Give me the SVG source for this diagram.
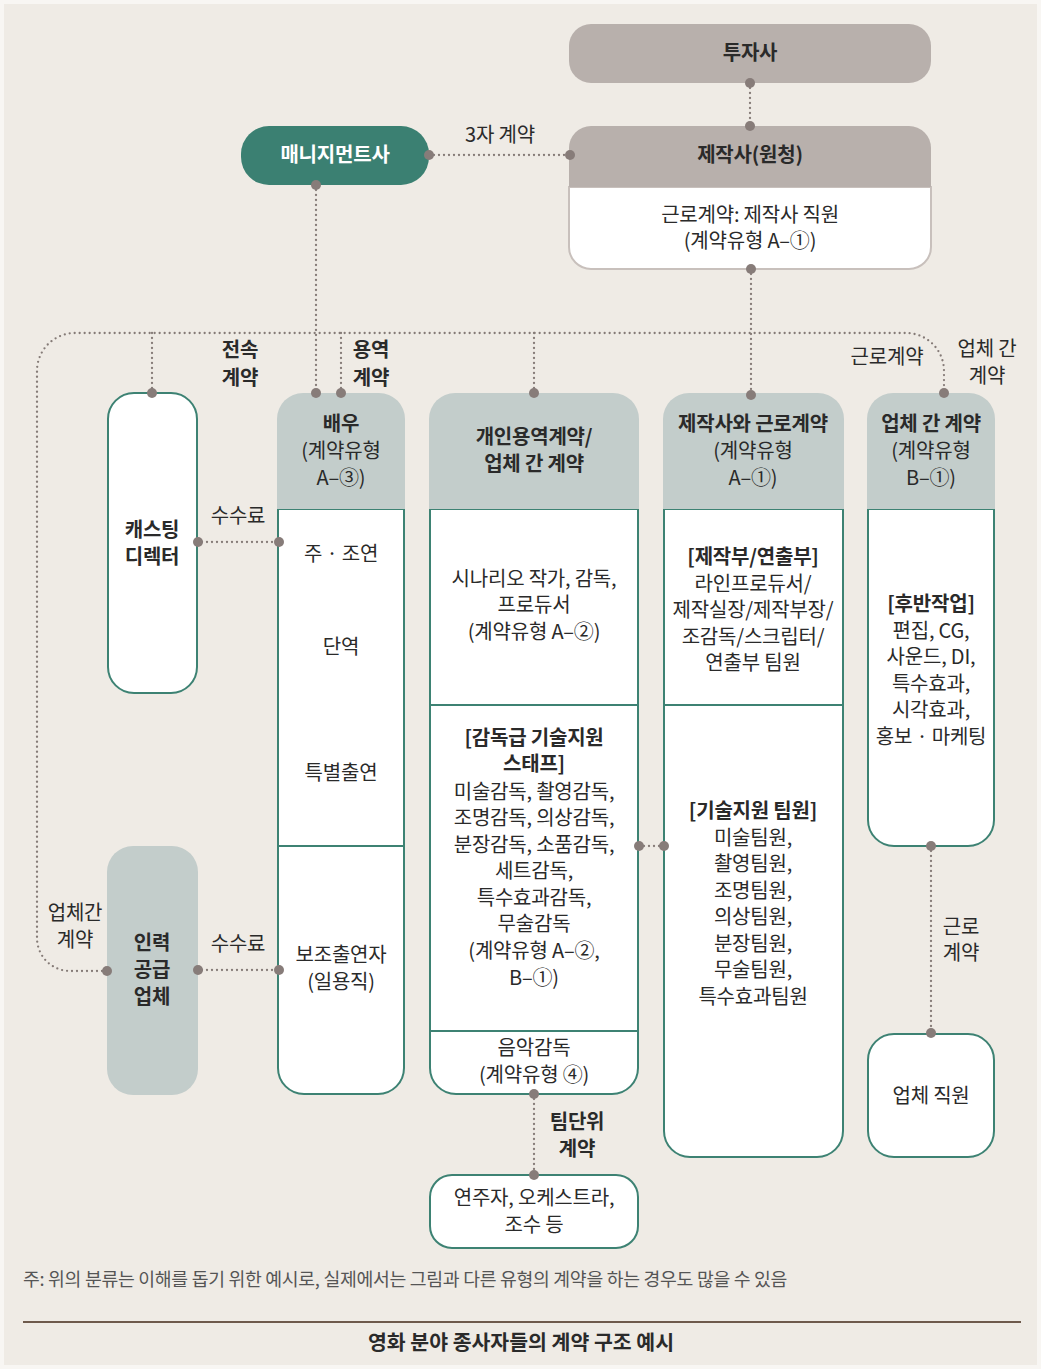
<svg xmlns="http://www.w3.org/2000/svg" width="1041" height="1369" viewBox="0 0 1041 1369">
<style>
text{font-family:"Noto Sans CJK KR","Noto Sans",sans-serif;font-size:20px;fill:#2a2a2a;text-anchor:middle;letter-spacing:-0.2px}
.b{font-weight:bold}
.w{fill:#ffffff}
.l{text-anchor:start}
.fn{font-size:18.3px;fill:#555;letter-spacing:-0.3px}
.ttl{font-size:20.5px;font-weight:bold;letter-spacing:0}
.con{fill:none;stroke:#857b77;stroke-width:2.3;stroke-linecap:round;stroke-dasharray:0 5}
.dot{fill:#877c79}
.wb{fill:#fff;stroke:#3d8273;stroke-width:2}
.hd{fill:#c3cdcb}
.tp{fill:#b8b0ac}
</style>
<rect x="0" y="0" width="1041" height="1369" fill="#f8f6f3"/>
<rect x="4" y="4" width="1033" height="1361" fill="#efebe5"/>

<g id="investor">
  <rect class="tp" x="569" y="24" width="362" height="59" rx="22"/>
  <text class="b" x="750" y="60">투자사</text>
</g>

<g id="producer">
  <path d="M569,187 H931 V247 A22,22 0 0 1 909,269 H591 A22,22 0 0 1 569,247 Z" fill="#fff" stroke="#c8c0bc" stroke-width="2"/>
  <path class="tp" d="M569,187 V148 A22,22 0 0 1 591,126 H909 A22,22 0 0 1 931,148 V187 Z"/>
  <text class="b" x="750" y="162">제작사(원청)</text>
  <text x="750" y="222">근로계약: 제작사 직원</text>
  <text x="750" y="248">(계약유형 A–①)</text>
</g>

<g id="management">
  <rect x="241" y="126" width="188" height="59" rx="28" fill="#3b8072"/>
  <text class="b w" x="335" y="162">매니지먼트사</text>
</g>

<g id="casting">
  <rect class="wb" x="108" y="393" width="89" height="300" rx="26"/>
  <text class="b" x="152" y="537">캐스팅</text>
  <text class="b" x="152" y="564">디렉터</text>
</g>

<g id="supplier">
  <rect class="hd" x="107" y="846" width="91" height="249" rx="26"/>
  <text class="b" x="152" y="950">인력</text>
  <text class="b" x="152" y="977">공급</text>
  <text class="b" x="152" y="1004">업체</text>
</g>

<g id="actor">
  <path class="wb" d="M278,509 H404 V1068 A26,26 0 0 1 378,1094 H304 A26,26 0 0 1 278,1068 Z"/>
  <path class="hd" d="M277,509 V419 A26,26 0 0 1 303,393 H379 A26,26 0 0 1 405,419 V509 Z"/>
  <line x1="278" y1="846" x2="404" y2="846" stroke="#3d8273" stroke-width="2"/>
  <text class="b" x="341" y="431">배우</text>
  <text x="341" y="458">(계약유형</text>
  <text x="341" y="485">A–③)</text>
  <text x="341" y="561">주 · 조연</text>
  <text x="341" y="654">단역</text>
  <text x="341" y="780">특별출연</text>
  <text x="341" y="962">보조출연자</text>
  <text x="341" y="989">(일용직)</text>
</g>

<g id="service">
  <path class="wb" d="M430,509 H638 V1068 A26,26 0 0 1 612,1094 H456 A26,26 0 0 1 430,1068 Z"/>
  <path class="hd" d="M429,509 V419 A26,26 0 0 1 455,393 H613 A26,26 0 0 1 639,419 V509 Z"/>
  <line x1="430" y1="705" x2="638" y2="705" stroke="#3d8273" stroke-width="2"/>
  <line x1="430" y1="1031" x2="638" y2="1031" stroke="#3d8273" stroke-width="2"/>
  <text class="b" x="534" y="444">개인용역계약/</text>
  <text class="b" x="534" y="471">업체 간 계약</text>
  <text x="534" y="586">시나리오 작가, 감독,</text>
  <text x="534" y="612">프로듀서</text>
  <text x="534" y="639">(계약유형 A–②)</text>
  <text class="b" x="534" y="745">[감독급 기술지원</text>
  <text class="b" x="534" y="771">스태프]</text>
  <text x="534" y="799">미술감독, 촬영감독,</text>
  <text x="534" y="825">조명감독, 의상감독,</text>
  <text x="534" y="852">분장감독, 소품감독,</text>
  <text x="534" y="878">세트감독,</text>
  <text x="534" y="905">특수효과감독,</text>
  <text x="534" y="931">무술감독</text>
  <text x="534" y="958">(계약유형 A–②,</text>
  <text x="534" y="985">B–①)</text>
  <text x="534" y="1055">음악감독</text>
  <text x="534" y="1082">(계약유형 ④)</text>
</g>

<g id="employment">
  <path class="wb" d="M664,509 H843 V1131 A26,26 0 0 1 817,1157 H690 A26,26 0 0 1 664,1131 Z"/>
  <path class="hd" d="M663,509 V419 A26,26 0 0 1 689,393 H818 A26,26 0 0 1 844,419 V509 Z"/>
  <line x1="664" y1="705" x2="843" y2="705" stroke="#3d8273" stroke-width="2"/>
  <text class="b" x="753" y="431">제작사와 근로계약</text>
  <text x="753" y="458">(계약유형</text>
  <text x="753" y="485">A–①)</text>
  <text class="b" x="753" y="564">[제작부/연출부]</text>
  <text x="753" y="591">라인프로듀서/</text>
  <text x="753" y="617">제작실장/제작부장/</text>
  <text x="753" y="644">조감독/스크립터/</text>
  <text x="753" y="670">연출부 팀원</text>
  <text class="b" x="753" y="818">[기술지원 팀원]</text>
  <text x="753" y="845">미술팀원,</text>
  <text x="753" y="871">촬영팀원,</text>
  <text x="753" y="898">조명팀원,</text>
  <text x="753" y="924">의상팀원,</text>
  <text x="753" y="951">분장팀원,</text>
  <text x="753" y="977">무술팀원,</text>
  <text x="753" y="1004">특수효과팀원</text>
</g>

<g id="b2b">
  <path class="wb" d="M868,509 H994 V820 A26,26 0 0 1 968,846 H894 A26,26 0 0 1 868,820 Z"/>
  <path class="hd" d="M867,509 V419 A26,26 0 0 1 893,393 H969 A26,26 0 0 1 995,419 V509 Z"/>
  <text class="b" x="931" y="431">업체 간 계약</text>
  <text x="931" y="458">(계약유형</text>
  <text x="931" y="485">B–①)</text>
  <text class="b" x="931" y="611">[후반작업]</text>
  <text x="931" y="638">편집, CG,</text>
  <text x="931" y="664">사운드, DI,</text>
  <text x="931" y="691">특수효과,</text>
  <text x="931" y="717">시각효과,</text>
  <text x="931" y="744">홍보 · 마케팅</text>
</g>

<g id="vendor-staff">
  <rect class="wb" x="868" y="1034" width="126" height="123" rx="26"/>
  <text x="931" y="1103">업체 직원</text>
</g>

<g id="musicians">
  <rect class="wb" x="430" y="1175" width="208" height="73" rx="22"/>
  <text x="534" y="1205">연주자, 오케스트라,</text>
  <text x="534" y="1232">조수 등</text>
</g>

<g id="connectors">
  <path class="con" d="M750,83 V126"/>
  <path class="con" d="M429,155 H570"/>
  <path class="con" d="M316,185 V393"/>
  <path class="con" d="M751,269 V395"/>
  <path class="con" d="M107,971 H70 A33,33 0 0 1 37,938 V371 A38,38 0 0 1 75,333 H906 A38,38 0 0 1 944,371 V393"/>
  <path class="con" d="M152,333 V393"/>
  <path class="con" d="M341,333 V393"/>
  <path class="con" d="M534,333 V393"/>
  <path class="con" d="M197,542 H279"/>
  <path class="con" d="M197,970 H279"/>
  <path class="con" d="M639,846 H664"/>
  <path class="con" d="M931,846 V1034"/>
  <path class="con" d="M534,1094 V1175"/>
  <g>
    <circle class="dot" cx="750" cy="83" r="5"/>
    <circle class="dot" cx="750" cy="126" r="5"/>
    <circle class="dot" cx="429" cy="155" r="5"/>
    <circle class="dot" cx="570" cy="155" r="5"/>
    <circle class="dot" cx="316" cy="185" r="5"/>
    <circle class="dot" cx="751" cy="269" r="5"/>
    <circle class="dot" cx="751" cy="395" r="5"/>
    <circle class="dot" cx="152" cy="393" r="5"/>
    <circle class="dot" cx="316" cy="393" r="5"/>
    <circle class="dot" cx="341" cy="393" r="5"/>
    <circle class="dot" cx="534" cy="393" r="5"/>
    <circle class="dot" cx="944" cy="393" r="5"/>
    <circle class="dot" cx="107" cy="971" r="5"/>
    <circle class="dot" cx="198" cy="542" r="5"/>
    <circle class="dot" cx="279" cy="542" r="5"/>
    <circle class="dot" cx="198" cy="970" r="5"/>
    <circle class="dot" cx="279" cy="970" r="5"/>
    <circle class="dot" cx="639" cy="846" r="5"/>
    <circle class="dot" cx="664" cy="846" r="5"/>
    <circle class="dot" cx="931" cy="846" r="5"/>
    <circle class="dot" cx="931" cy="1033" r="5"/>
    <circle class="dot" cx="534" cy="1094" r="5"/>
    <circle class="dot" cx="534" cy="1175" r="5"/>
  </g>
  <text x="500" y="142">3자 계약</text>
  <text class="b" x="240" y="357">전속</text>
  <text class="b" x="240" y="385">계약</text>
  <text class="b" x="371" y="357">용역</text>
  <text class="b" x="371" y="385">계약</text>
  <text x="887" y="364">근로계약</text>
  <text x="987" y="356">업체 간</text>
  <text x="987" y="383">계약</text>
  <text x="238" y="523">수수료</text>
  <text x="238" y="951">수수료</text>
  <text x="75" y="920">업체간</text>
  <text x="75" y="947">계약</text>
  <text x="961" y="934">근로</text>
  <text x="961" y="960">계약</text>
  <text class="b" x="577" y="1129">팀단위</text>
  <text class="b" x="577" y="1156">계약</text>
</g>

<text class="l fn" x="23" y="1286">주: 위의 분류는 이해를 돕기 위한 예시로, 실제에서는 그림과 다른 유형의 계약을 하는 경우도 많을 수 있음</text>
<line x1="23" y1="1322" x2="1021" y2="1322" stroke="#6e5a4c" stroke-width="2"/>
<text class="ttl" x="521" y="1350">영화 분야 종사자들의 계약 구조 예시</text>
</svg>
